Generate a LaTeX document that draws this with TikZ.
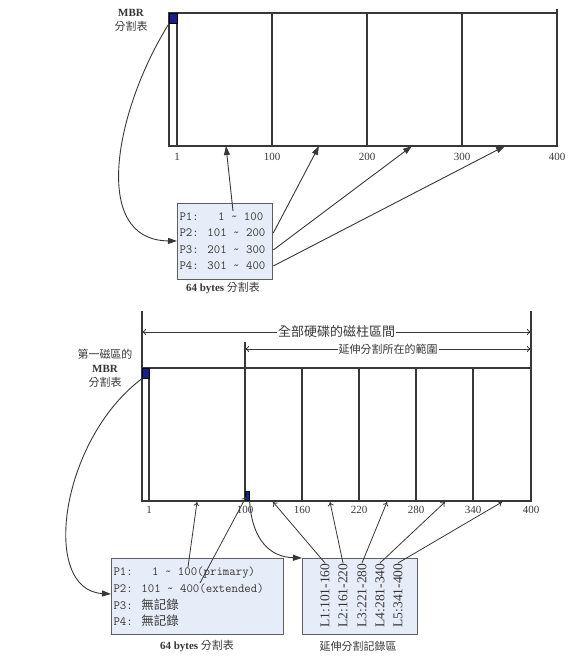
\documentclass[tikz,border=0pt]{standalone}
\usepackage{fontspec}
\setmainfont{Liberation Serif}
\newfontfamily\cjk{Noto Sans CJK TC}
\usetikzlibrary{arrows.meta,positioning}
\definecolor{tabfill}{RGB}{230,237,248}
\definecolor{mbrblue}{RGB}{22,32,140}
\definecolor{ink}{RGB}{55,55,55}

\begin{document}
\begin{tikzpicture}[
  x=1pt, y=-1pt,
  color=ink, line width=1.1pt,
  tbl/.style={draw=ink!80, fill=tabfill, line width=1.3pt, inner sep=0pt},
  blk/.style={draw=black, fill=mbrblue, inner sep=0pt, line width=0.6pt},
  num/.style={font=\fontsize{11}{12}\selectfont, inner sep=1pt},
  capt/.style={font=\fontsize{11}{14}\selectfont, align=center, inner sep=1pt},
  row/.style={font=\fontsize{12.5}{14}\ttfamily, anchor=west, inner sep=0pt},
  lrec/.style={font=\fontsize{13.5}{14}\selectfont, rotate=90, anchor=east, inner sep=0pt},
  arr/.style={-{Triangle[length=9pt, width=6pt]}, line width=0.9pt},
  farr/.style={-{To[length=4pt, width=6pt]}, line width=0.8pt},
  dimarr/.style={{To[length=4pt, width=6pt]}-{To[length=4pt, width=6pt]}, line width=0.8pt}
]
\useasboundingbox (0,0) rectangle (586,662);

% upper disk
\draw (169,13) rectangle (557,146);
\draw (557,9) -- (557,13);
\foreach \x in {177,272,367,462} \draw (\x,13) -- (\x,146);
\foreach \x/\t in {177/1,272/100,367/200,462/300,557/400}
  \node[num] (na\t) at (\x,157) {\t};
\node[blk, anchor=north west, minimum width=8pt, minimum height=10pt] (mbrA) at (169,13) {};
\node[capt] (lblA) at (131,20) {\textbf{MBR}\\{\cjk 分割表}};

\node[tbl, anchor=north west, minimum width=95pt, minimum height=76pt] (ptabA) at (177,203) {};
\node[row] (pa1) at (179,217) {P1:\ \ \ 1 \textasciitilde{} 100};
\node[row] (pa2) at (179,233) {P2: 101 \textasciitilde{} 200};
\node[row] (pa3) at (179,250) {P3: 201 \textasciitilde{} 300};
\node[row] (pa4) at (179,266) {P4: 301 \textasciitilde{} 400};
\node[capt] (capA) at (223,288) {\textbf{64 bytes} {\cjk 分割表}};

\coordinate (inA) at (177,241);
\coordinate (sa1) at (233,211);
\coordinate (ta1) at (226,146);
\coordinate (ta2) at (319,146);
\coordinate (ta3) at (412,146);
\coordinate (ta4) at (505,146);
\draw[arr] (mbrA.south west) .. controls (115,110) and (90,240) .. (inA);
\draw[arr] (sa1) -- (ta1);
\draw[arr] (ptabA.east |- pa2) -- (ta2);
\draw[arr] (ptabA.east |- pa3) -- (ta3);
\draw[arr] (ptabA.east |- pa4) -- (ta4);

% lower disk
\draw (142,311) -- (142,501) -- (531,501) -- (531,311);
\draw (142,368) -- (531,368);
\draw (245,342) -- (245,501);
\foreach \x in {149,302,359,416,473} \draw (\x,368) -- (\x,501);
\foreach \x/\t in {149/1,245/100,302/160,359/220,416/280,473/340,531/400}
  \node[num] (nb\t) at (\x,510) {\t};

\coordinate (d1a) at (142,332);
\coordinate (d1b) at (531,332);
\coordinate (d2a) at (245,349);
\coordinate (d2b) at (531,349);
\draw[dimarr] (d1a) -- (d1b) node[midway, fill=white, inner sep=1pt, font=\cjk\fontsize{13}{14}\selectfont] (span1) {全部硬碟的磁柱區間};
\draw[dimarr] (d2a) -- (d2b) node[midway, fill=white, inner sep=1pt, font=\cjk\fontsize{11}{12}\selectfont] (span2) {延伸分割所在的範圍};

\node[blk, anchor=north west, minimum width=7pt, minimum height=10pt] (mbrB) at (142,368) {};
\node[blk, anchor=south west, minimum width=4pt, minimum height=9pt] (ebr) at (245,501) {};
\node[capt] (lblB) at (105,368) {{\cjk 第一磁區的}\\\textbf{MBR}\\{\cjk 分割表}};

\node[tbl, anchor=north west, minimum width=172pt, minimum height=76pt] (ptabB) at (111,558) {};
\node[row] (pb1) at (113,573) {P1:\ \ \ 1 \textasciitilde{} 100(primary)};
\node[row] (pb2) at (113,589) {P2: 101 \textasciitilde{} 400(extended)};
\node[row] (pb3) at (113,605) {P3: {\cjk 無記錄}};
\node[row] (pb4) at (113,621) {P4: {\cjk 無記錄}};
\node[capt] (capB) at (197,646) {\textbf{64 bytes} {\cjk 分割表}};

\node[tbl, anchor=north west, minimum width=115pt, minimum height=76pt] (ltab) at (302,558) {};
\node[lrec] (l1) at (325,563) {L1:101-160};
\node[lrec] (l2) at (343,563) {L2:161-220};
\node[lrec] (l3) at (362,563) {L3:221-280};
\node[lrec] (l4) at (380,563) {L4:281-340};
\node[lrec] (l5) at (398,563) {L5:341-400};
\node[capt] (capL) at (358,646) {\cjk 延伸分割記錄區};

\coordinate (inB) at (111,594);
\coordinate (sb1) at (188,567);
\coordinate (tb1) at (197,502);
\coordinate (sb2) at (200,583);
\coordinate (tb2) at (246,497);
\coordinate (tl1) at (273,502);
\coordinate (tl2) at (330,502);
\coordinate (tl3) at (387,502);
\coordinate (tl4) at (445,502);
\coordinate (tl5) at (502,502);
\draw[arr] (mbrB.south west) .. controls (60,440) and (40,590) .. (inB);
\draw[arr] (ebr.south east) .. controls (252,540) and (270,557) .. (ltab.north west);
\draw[farr] (sb1) -- (tb1);
\draw[farr] (sb2) -- (tb2);
\draw[farr] (l1.east) -- (tl1);
\draw[farr] (l2.east) -- (tl2);
\draw[farr] (l3.east) -- (tl3);
\draw[farr] (l4.east) -- (tl4);
\draw[farr] (l5.east) -- (tl5);
\end{tikzpicture}
\end{document}
